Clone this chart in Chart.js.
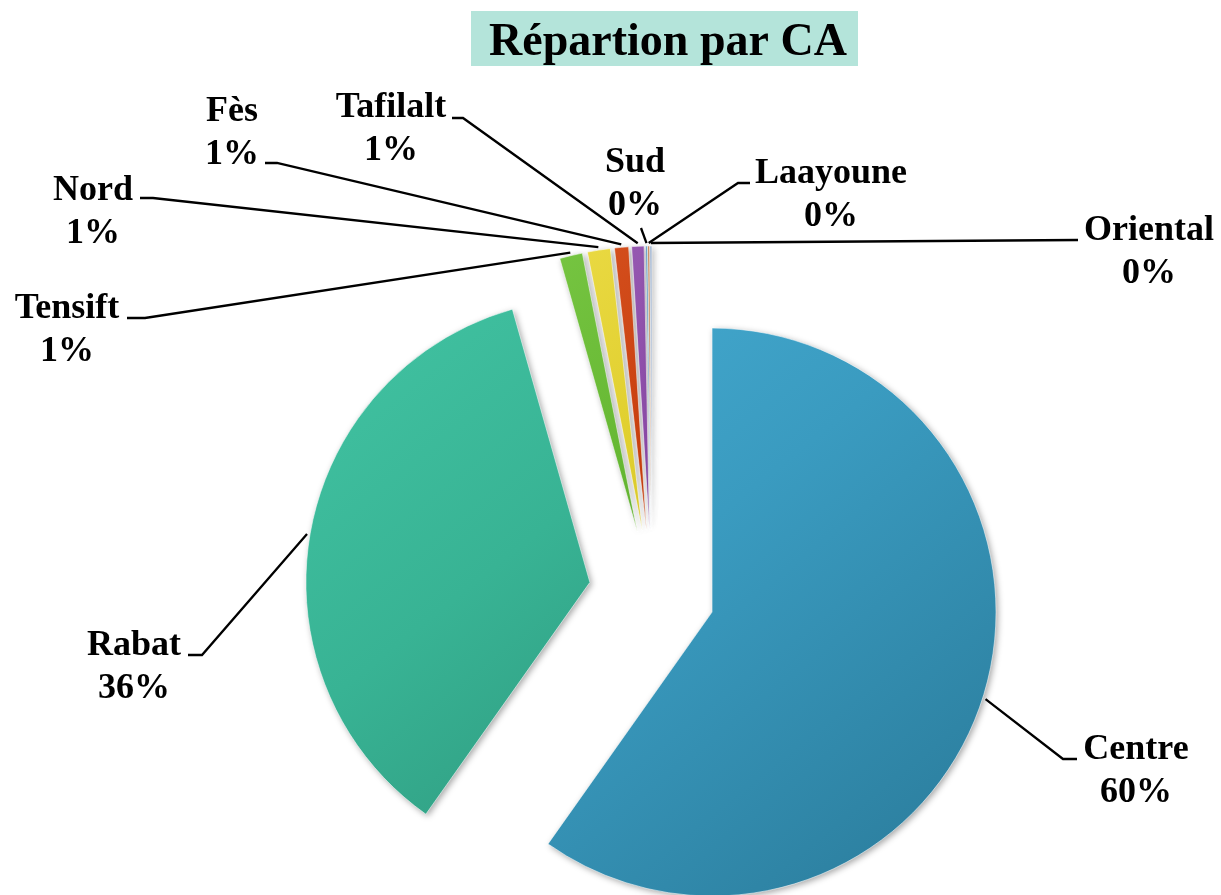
<!DOCTYPE html>
<html lang="fr">
<head>
<meta charset="utf-8">
<title>Répartion par CA</title>
<script src="https://cdn.jsdelivr.net/npm/chart.js@4.4.1/dist/chart.umd.min.js"></script>
<style>
  html, body { margin: 0; padding: 0; background: #fff; }
  #wrap { width: 1221px; height: 895px; position: relative; }
</style>
</head>
<body>
<div id="wrap"><canvas id="chartCA"></canvas></div>
<script>
// --- DONNEES ---
const regions = ['Centre', 'Rabat', 'Tensift', 'Nord', 'Fès', 'Tafilalt', 'Sud', 'Laayoune', 'Oriental'];
const parts = [59.8, 35.8, 1.3, 1.3, 0.8, 0.7, 0.1, 0.1, 0.1];

// couleurs (clair, base, sombre) pour l'effet relief
const colClair = ['#46acd2', '#42c4a3', '#80cc4a', '#f0e050', '#dc5a28', '#a066bb', '#6fb0d8', '#d08a55', '#9bb5d6'];
const colBase  = ['#3a9bc0', '#38b394', '#66b833', '#e0cf2e', '#c9400f', '#8a4aa6', '#4a8fbf', '#b86a30', '#7c96bb'];
const colSombre = ['#2c7f9f', '#2b9077', '#4c8f22', '#b6a81c', '#9c2f08', '#683782', '#346e96', '#8d4f20', '#5d7596'];

// placement des etiquettes : centre du texte x, ligne de base 1, coude du trait, bout du trait
const etiquettes = [
  [1136, 759, [1063, 759], [1077, 759]],
  [134, 655, [202, 655], [188, 655]],
  [67, 318, [145, 318], [127, 318]],
  [93, 200, [153, 198], [140, 198]],
  [232, 121, [277, 163], [265, 163]],
  [391, 117, [463, 118], [452, 118]],
  [635, 172, [641, 228], [641, 228]],
  [831, 183, [738, 183], [750, 183]],
  [1149, 240, [1078, 240], [1078, 240]]
];

const RAYON = 284;
const ECART = 63;
const POLICE = '"Liberation Serif", "Times New Roman", serif';

// Les parts eclatees : on deplace chaque part de tout son offset
Chart.ArcElement.prototype.draw = function (ctx) {
  const { x, y, startAngle, endAngle, outerRadius, options } = this;
  if (!(endAngle > startAngle)) return;
  const mid = (startAngle + endAngle) / 2;
  const off = options.offset || 0;
  ctx.save();
  ctx.translate(Math.cos(mid) * off, Math.sin(mid) * off);
  ctx.beginPath();
  ctx.moveTo(x, y);
  ctx.arc(x, y, outerRadius, startAngle, endAngle);
  ctx.closePath();
  ctx.shadowColor = 'rgba(0,0,0,0.35)';
  ctx.shadowBlur = 6;
  ctx.shadowOffsetX = 2;
  ctx.shadowOffsetY = 2;
  ctx.fillStyle = options.backgroundColor;
  ctx.fill();
  ctx.shadowColor = 'transparent';
  ctx.strokeStyle = 'rgba(255,255,255,0.55)';
  ctx.lineWidth = 1;
  ctx.stroke();
  ctx.restore();
};

function degrade(context) {
  const i = context.dataIndex;
  const area = context.chart.chartArea;
  if (!area) return colBase[i];
  const cx = (area.left + area.right) / 2;
  const cy = (area.top + area.bottom) / 2;
  const g = context.chart.ctx.createLinearGradient(cx - RAYON, cy - RAYON, cx + RAYON * 0.6, cy + RAYON);
  g.addColorStop(0, colClair[i]);
  g.addColorStop(0.45, colBase[i]);
  g.addColorStop(1, colSombre[i]);
  return g;
}

const titrePlugin = {
  id: 'titreBoite',
  beforeDraw(chart) {
    const ctx = chart.ctx;
    ctx.save();
    ctx.fillStyle = '#b4e4da';
    ctx.fillRect(471, 11, 387, 55);
    ctx.fillStyle = '#000';
    ctx.font = 'bold 46px ' + POLICE;
    ctx.textAlign = 'center';
    ctx.textBaseline = 'alphabetic';
    ctx.fillText('Répartion par CA', 668, 55);
    ctx.restore();
  }
};

const etiquettesPlugin = {
  id: 'etiquettes',
  afterDatasetsDraw(chart) {
    const ctx = chart.ctx;
    const meta = chart.getDatasetMeta(0);
    const total = parts.reduce((a, b) => a + b, 0);
    ctx.save();
    ctx.strokeStyle = '#000';
    ctx.lineWidth = 2.3;
    ctx.fillStyle = '#000';
    ctx.font = 'bold 36px ' + POLICE;
    ctx.textAlign = 'center';
    ctx.textBaseline = 'alphabetic';
    meta.data.forEach((arc, i) => {
      const mid = (arc.startAngle + arc.endAngle) / 2;
      const d = arc.outerRadius + arc.options.offset + 3;
      const px = arc.x + Math.cos(mid) * d;
      const py = arc.y + Math.sin(mid) * d;
      const [tx, ty, coude, bout] = etiquettes[i];
      ctx.beginPath();
      ctx.moveTo(px, py);
      ctx.lineTo(coude[0], coude[1]);
      ctx.lineTo(bout[0], bout[1]);
      ctx.stroke();
      ctx.fillText(regions[i], tx, ty);
      ctx.fillText(Math.round(parts[i] / total * 100) + '%', tx, ty + 43);
    });
    ctx.restore();
  }
};

new Chart(document.getElementById('chartCA'), {
  type: 'pie',
  data: {
    labels: regions,
    datasets: [{
      data: parts,
      backgroundColor: degrade,
      borderWidth: 0,
      offset: ECART,
      radius: RAYON
    }]
  },
  options: {
    responsive: true,
    maintainAspectRatio: false,
    animation: false,
    layout: { padding: { left: 83, right: 0, top: 291, bottom: 0 } },
    plugins: {
      legend: { display: false },
      tooltip: { enabled: false },
      title: { display: false }
    }
  },
  plugins: [titrePlugin, etiquettesPlugin]
});
</script>
</body>
</html>
